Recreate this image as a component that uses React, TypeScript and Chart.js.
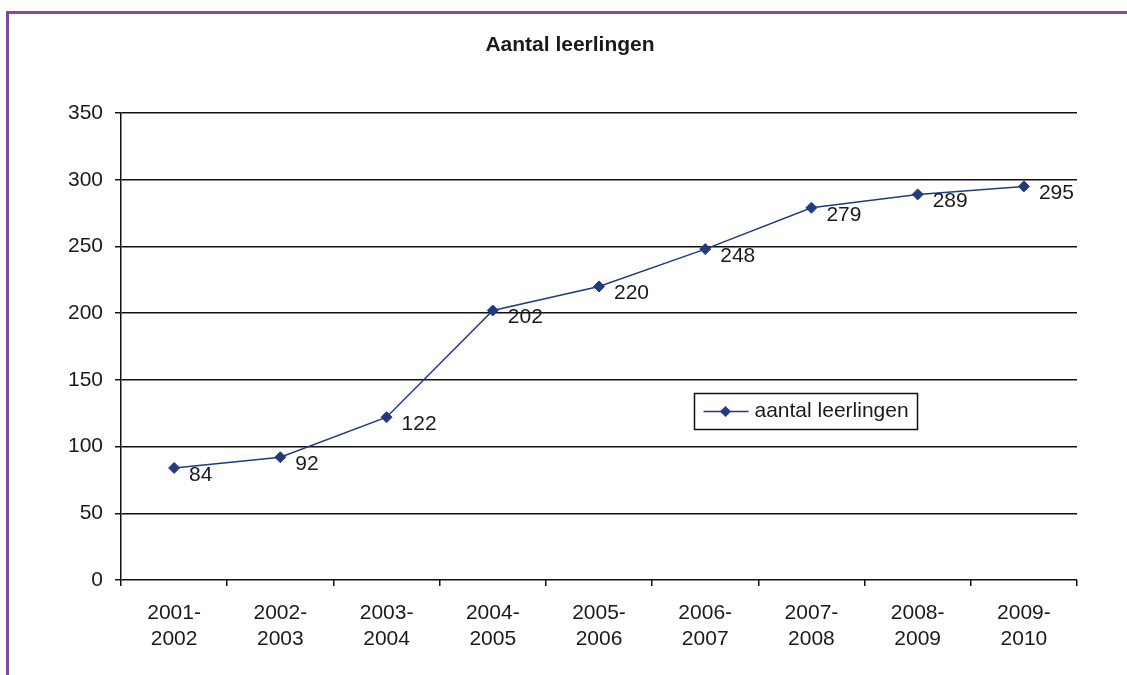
import React, { useEffect, useRef } from "react";
import { Chart, registerables } from "chart.js";

Chart.register(...registerables);

const categories: string[][] = [
  ["2001-", "2002"],
  ["2002-", "2003"],
  ["2003-", "2004"],
  ["2004-", "2005"],
  ["2005-", "2006"],
  ["2006-", "2007"],
  ["2007-", "2008"],
  ["2008-", "2009"],
  ["2009-", "2010"],
];
const leerlingen: number[] = [84, 92, 122, 202, 220, 248, 279, 289, 295];
const seriesName = "aantal leerlingen";
const chartTitle = "Aantal leerlingen";
const yMin = 0;
const yMax = 350;
const yStep = 50;

const FONT = "'Liberation Sans', Arial, sans-serif";
const TEXT = "#1a1a1a";
const LINE = "#243a80";
const PURPLE = "#8348a0";

export default function App() {
  const ref = useRef<HTMLCanvasElement | null>(null);

  useEffect(() => {
    if (!ref.current) return;

    const decor = {
      id: "decor",
      beforeDraw(chart: any) {
        const ctx = chart.ctx;
        ctx.save();
        ctx.fillStyle = "#ffffff";
        ctx.fillRect(0, 0, chart.width, chart.height);
        ctx.fillStyle = PURPLE;
        ctx.fillRect(6, 11, 3, chart.height);
        ctx.fillRect(6, 11, chart.width, 3);
        ctx.fillStyle = TEXT;
        ctx.font = `bold 21px ${FONT}`;
        ctx.textAlign = "center";
        ctx.textBaseline = "middle";
        ctx.fillText(chartTitle, 570, 45);
        ctx.restore();
      },
      afterDatasetsDraw(chart: any) {
        const ctx = chart.ctx;
        const meta = chart.getDatasetMeta(0);
        ctx.save();
        ctx.fillStyle = TEXT;
        ctx.font = `21px ${FONT}`;
        ctx.textAlign = "left";
        ctx.textBaseline = "middle";
        meta.data.forEach((pt: any, i: number) => {
          ctx.fillText(String(leerlingen[i]), pt.x + 15, pt.y + 7);
        });
        ctx.restore();
      },
      afterDraw(chart: any) {
        const ctx = chart.ctx;
        const a = chart.chartArea;
        const w = a.right - a.left;
        const h = a.bottom - a.top;
        const bx = Math.round(a.left + w * 0.5995) + 0.5;
        const by = Math.round(a.top + h * 0.6) + 0.5;
        const bw = 223;
        const bh = 36;
        ctx.save();
        ctx.strokeStyle = "#111111";
        ctx.lineWidth = 1.5;
        ctx.strokeRect(bx, by, bw, bh);
        const cy = by + bh / 2;
        ctx.strokeStyle = LINE;
        ctx.lineWidth = 1.5;
        ctx.beginPath();
        ctx.moveTo(bx + 9, cy);
        ctx.lineTo(bx + 54, cy);
        ctx.stroke();
        ctx.fillStyle = LINE;
        ctx.beginPath();
        const dx = bx + 31;
        ctx.moveTo(dx, cy - 5.5);
        ctx.lineTo(dx + 5.5, cy);
        ctx.lineTo(dx, cy + 5.5);
        ctx.lineTo(dx - 5.5, cy);
        ctx.closePath();
        ctx.fill();
        ctx.fillStyle = TEXT;
        ctx.font = `21px ${FONT}`;
        ctx.textAlign = "left";
        ctx.textBaseline = "middle";
        ctx.fillText(seriesName, bx + 60, cy);
        ctx.restore();
      },
    };

    const chart = new Chart(ref.current, {
      type: "line",
      data: {
        labels: categories,
        datasets: [
          {
            label: seriesName,
            data: leerlingen,
            borderColor: LINE,
            backgroundColor: LINE,
            borderWidth: 1.5,
            pointStyle: "rectRot",
            pointRadius: 5.5,
            pointBorderWidth: 1,
            pointBackgroundColor: LINE,
            pointBorderColor: LINE,
            tension: 0,
            fill: false,
          },
        ],
      },
      options: {
        animation: false,
        responsive: false,
        devicePixelRatio: 1,
        layout: { padding: { top: 113, right: 50, bottom: 0, left: 0 } },
        plugins: {
          legend: { display: false },
          title: { display: false },
          tooltip: { enabled: false },
        },
        scales: {
          x: {
            type: "category",
            offset: true,
            grid: {
              offset: true,
              drawOnChartArea: false,
              drawTicks: true,
              tickLength: 6,
              color: "#111111",
              lineWidth: 1.5,
            },
            border: { display: false },
            ticks: {
              color: TEXT,
              font: { family: FONT, size: 21, lineHeight: 1.25 },
              padding: 14,
              maxRotation: 0,
              minRotation: 0,
              autoSkip: false,
            },
            afterFit(scale: any) {
              scale.height = 95;
            },
          },
          y: {
            min: yMin,
            max: yMax,
            grid: {
              color: "#111111",
              lineWidth: 1.5,
              tickLength: 6,
              drawTicks: true,
            },
            border: { display: true, color: "#111111", width: 1.5 },
            ticks: {
              stepSize: yStep,
              color: TEXT,
              font: { family: FONT, size: 21 },
              padding: 12,
            },
            afterFit(scale: any) {
              scale.width = 121;
            },
          },
        },
      },
      plugins: [decor],
    } as any);

    return () => chart.destroy();
  }, []);

  return (
    <div style={{ position: "absolute", left: 0, top: 0, width: 1127, height: 675, overflow: "hidden" }}>
      <canvas ref={ref} width={1127} height={675} style={{ display: "block", width: 1127, height: 675 }} />
    </div>
  );
}
